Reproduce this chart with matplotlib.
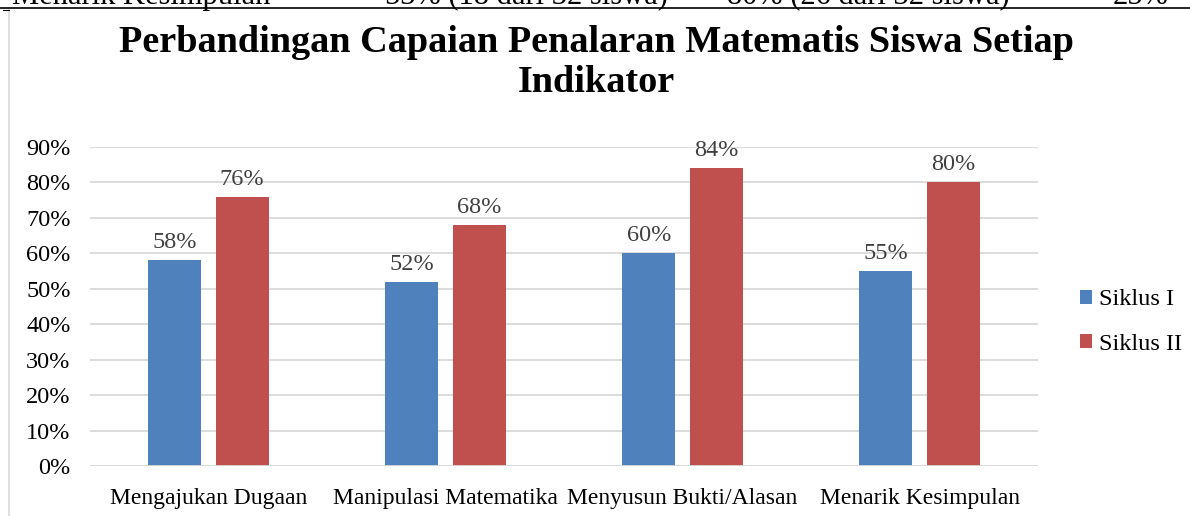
import matplotlib
matplotlib.use("Agg")
import matplotlib.pyplot as plt
import numpy as np
from matplotlib.lines import Line2D

categories = ["Mengajukan Dugaan", "Manipulasi Matematika", "Menyusun Bukti/Alasan", "Menarik Kesimpulan"]
siklus1 = [58, 52, 60, 55]
siklus2 = [76, 68, 84, 80]
series_names = ["Siklus I", "Siklus II"]
yticks = [0, 10, 20, 30, 40, 50, 60, 70, 80, 90]
top_row = ["Menarik Kesimpulan", "53% (18 dari 32 siswa)", "80% (26 dari 32 siswa)", "25%"]

plt.rcParams['font.family'] = ['Liberation Serif', 'DejaVu Serif']

W, H = 1190, 516
fig = plt.figure(figsize=(W / 100, H / 100), dpi=100)

def fx(px):
    return px / W

def fy(py):
    return 1 - py / H

# chart frame
fig.add_artist(Line2D([fx(0), fx(W)], [fy(8), fy(8)], color='black', lw=1.2))
fig.add_artist(Line2D([fx(8.5), fx(8.5)], [fy(10), fy(H)], color='#D9D9D9', lw=1.2))
fig.add_artist(Line2D([fx(3), fx(8.5)], [fy(10), fy(10)], color='black', lw=0.8))

# cut-off table row remnant at the top
row_y = fy(4)
fig.text(fx(270), row_y, top_row[0], fontsize=22, va='baseline', ha='right')
fig.text(fx(385), row_y, top_row[1], fontsize=22, va='baseline', ha='left')
fig.text(fx(727), row_y, top_row[2], fontsize=22, va='baseline', ha='left')
fig.text(fx(1140), row_y, top_row[3], fontsize=22, va='baseline', ha='center')

ax = fig.add_axes([fx(90), fy(466), fx(1038) - fx(90), fy(147) - fy(466)])
x = np.arange(len(categories))
bw = 0.224
off = 0.142
b1 = ax.bar(x - off, siklus1, bw, color='#4F81BD', label=series_names[0], zorder=3)
b2 = ax.bar(x + off, siklus2, bw, color='#C0504D', label=series_names[1], zorder=3)

for bars, vals in ((b1, siklus1), (b2, siklus2)):
    for r, v in zip(bars, vals):
        ax.text(r.get_x() + r.get_width() / 2, v + 2.0, f"{v}%", ha='center', va='bottom',
                fontsize=17.5, color='#404040')

ax.set_xlim(-0.5, 3.5)
ax.set_ylim(0, 90)
ax.set_yticks(yticks)
ax.set_yticklabels([f"{t}%" for t in yticks], fontsize=17.5)
ax.set_xticks(x)
ax.set_xticklabels(categories, fontsize=17)
ax.tick_params(axis='both', length=0)
ax.tick_params(axis='y', pad=14)
ax.tick_params(axis='x', pad=16)
ax.yaxis.grid(True, color='#D9D9D9', lw=1.3, zorder=0)
for s in ax.spines.values():
    s.set_visible(False)
ax.axhline(0, color='#D9D9D9', lw=1.3, zorder=4)

fig.text(fx(596), fy(43), "Perbandingan Capaian Penalaran Matematis Siswa Setiap", fontsize=27.5,
         fontweight='bold', ha='center', va='center')
fig.text(fx(596), fy(82), "Indikator", fontsize=27.5, fontweight='bold', ha='center', va='center')

leg = fig.legend(handles=[b1, b2], labels=series_names, loc='center left',
                 bbox_to_anchor=(fx(1080), fy(322)), frameon=False, fontsize=17.5,
                 borderaxespad=0, borderpad=0,
                 handlelength=0.5, handleheight=0.5, handletextpad=0.3, labelspacing=0.95)

fig.savefig("out.png", dpi=100)
